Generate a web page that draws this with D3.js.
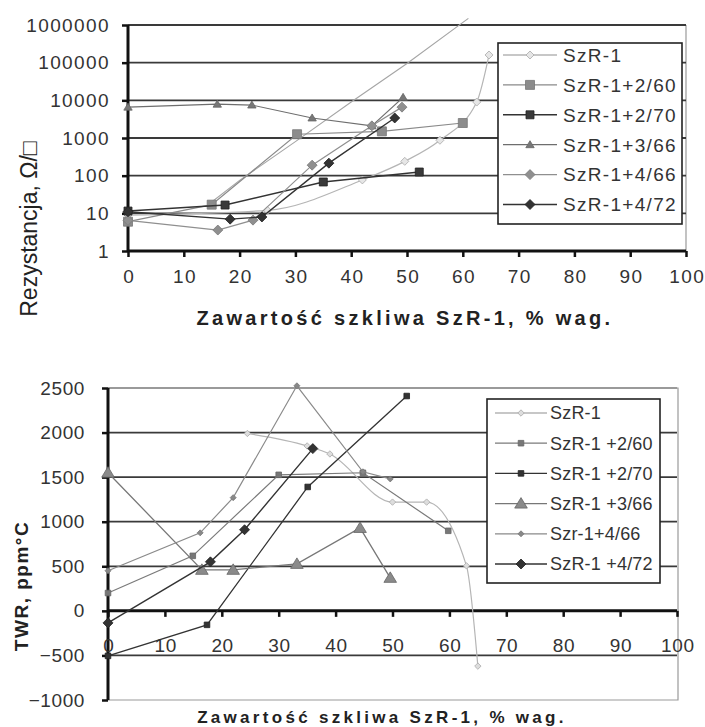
<!DOCTYPE html>
<html><head><meta charset="utf-8">
<script src="https://cdn.jsdelivr.net/npm/d3@7"></script>
<style>body{margin:0;background:#fff}svg{display:block}</style>
</head><body>
<svg id="c" width="705" height="727"></svg>
<script>
// ---------- DATA ----------
const xTicks = [0,10,20,30,40,50,60,70,80,90,100];
// Top chart: resistance (Ω/□), log scale
const resTicks = [1,10,100,1000,10000,100000,1000000];
const resNames = ["SzR-1","SzR-1+2/60","SzR-1+2/70","SzR-1+3/66","SzR-1+4/66","SzR-1+4/72"];
const resSzR1 = [[0,9],[25,12],[42,77],[49.6,240],[55.9,870],[62.5,9000],[64.7,160000]];
const res260  = [[0,6],[15,17],[30.3,1260],[45.5,1500],[60,2500]];
const res270  = [[0,11.5],[17.4,16.6],[35,68],[52.2,125]];
const res366  = [[0,6600],[16,7900],[22.2,7500],[33,3400],[43.7,2100],[49.3,12000]];
const res466  = [[0,6.5],[16.1,3.6],[22.4,6.6],[33,190],[43.7,2100],[49.1,6600]];
const res472  = [[0,11],[18.3,7],[24,8],[36,215],[47.8,3400]];
const resTrend = [[15,20],[20,75],[30,800],[40,9000],[50,95000],[61,1500000]];
// Bottom chart: TWR (ppm/°C)
const twrTicks = [-1000,-500,0,500,1000,1500,2000,2500];
const twrNames = ["SzR-1","SzR-1 +2/60","SzR-1 +2/70","SzR-1 +3/66","Szr-1+4/66","SzR-1 +4/72"];
const twrSzR1 = [[24.5,1990],[35,1850],[39,1760],[50,1220],[56,1220],[63,505],[65,-620]];
const twr260  = [[0,200],[14.9,617],[30,1526],[44.8,1549],[59.8,898]];
const twr270  = [[0,-505],[17.4,-157],[35.1,1390],[52.5,2410]];
const twr366  = [[0,1550],[16.5,460],[22,460],[33.2,527],[44.3,930],[49.6,370]];
const twr466  = [[0,450],[16.2,875],[22,1270],[33.2,2525],[44.8,1560],[49.6,1480]];
const twr472  = [[0,-135],[18,550],[24,910],[36,1820]];

const xTitle = "Zawartość szkliwa SzR-1, % wag.";

// ---------- STYLES ----------
const FONT = "'Liberation Sans', Arial, sans-serif";
const svg = d3.select("#c");

function markerPath(type, r){
  if(type==="square") return `M${-r},${-r}h${2*r}v${2*r}h${-2*r}Z`;
  if(type==="diamond") return `M0,${-r}L${r},0L0,${r}L${-r},0Z`;
  if(type==="triangle") return `M0,${-r}L${r*1.05},${r*0.75}L${-r*1.05},${r*0.75}Z`;
  return "";
}

function drawChart(cfg){
  const g = svg.append("g");
  const {x,y} = cfg;
  const [x0,x1] = x.range();
  const [yb,yt] = y.range();
  g.append("path").attr("d", cfg.frame).attr("fill","none").attr("stroke","#9a9a9a").attr("stroke-width",1.2);
  g.selectAll(".grid").data(cfg.grid).join("line")
    .attr("x1",x0).attr("x2",x1).attr("y1",d=>y(d)).attr("y2",d=>y(d))
    .attr("stroke",d=>cfg.lightGrid.includes(d)?"#8a8a8a":"#3a3a3a")
    .attr("stroke-width",d=>cfg.lightGrid.includes(d)?1.3:1.8);
  const ya = d3.axisLeft(y).tickValues(cfg.yTicks).tickSize(6).tickPadding(cfg.yPad).tickFormat(d3.format("d"));
  const yg = g.append("g").attr("transform",`translate(${x0},0)`).call(ya);
  const xa = d3.axisBottom(x).tickValues(xTicks).tickSize(6).tickPadding(cfg.xPad).tickFormat(d3.format("d"));
  const xg = g.append("g").attr("transform",`translate(0,${cfg.xAxisY})`).call(xa);
  [yg,xg].forEach(a=>{
    a.select(".domain").attr("stroke","#111").attr("stroke-width",3);
    a.selectAll(".tick line").attr("stroke","#111").attr("stroke-width",2.5);
    a.selectAll(".tick text").attr("fill","#333").style("font-family",FONT)
      .style("font-size",cfg.tickFont+"px").style("letter-spacing",cfg.tickLS+"px");
  });
  yg.select(".domain").attr("d",`M0,${yb}V${yt}`);
  xg.select(".domain").attr("d",`M${x0},0H${x1}`);
  xg.selectAll(".tick text").attr("dx", cfg.tickLS/2);
  cfg.series.forEach(s=>{
    const ln = d3.line().x(d=>x(d[0])).y(d=>y(d[1])).curve(s.smooth?d3.curveMonotoneX:d3.curveLinear);
    g.append("path").attr("d",ln(s.data)).attr("fill","none")
      .attr("stroke",s.line).attr("stroke-width",s.lw);
    if(s.marker){
      g.selectAll(null).data(s.data).join("path")
        .attr("transform",d=>`translate(${x(d[0])},${y(d[1])})`)
        .attr("d",markerPath(s.marker,s.r))
        .attr("fill",s.fill).attr("stroke",s.stroke).attr("stroke-width",s.sw||0.8);
    }
  });
  const L = cfg.legend;
  g.append("rect").attr("x",L.x).attr("y",L.y).attr("width",L.w).attr("height",L.h)
    .attr("fill","#fff").attr("stroke","#222").attr("stroke-width",1.6);
  cfg.series.filter(s=>s.name).forEach((s,i)=>{
    const ry = L.row0 + i*L.dy;
    g.append("line").attr("x1",L.l1).attr("x2",L.l2).attr("y1",ry).attr("y2",ry)
      .attr("stroke",s.line).attr("stroke-width",Math.max(s.lw,1.3));
    if(s.marker) g.append("path").attr("transform",`translate(${(L.l1+L.l2)/2},${ry})`)
      .attr("d",markerPath(s.marker,s.r)).attr("fill",s.fill).attr("stroke",s.stroke).attr("stroke-width",s.sw||0.8);
    g.append("text").attr("x",L.tx).attr("y",ry+L.font*0.36).text(s.name)
      .attr("fill","#333").style("font-family",FONT).style("font-size",L.font+"px").style("letter-spacing",L.ls+"px");
  });
  g.append("text").attr("x",cfg.xt.x).attr("y",cfg.xt.y).attr("text-anchor","middle").text(xTitle)
    .attr("fill","#222").style("font-family",FONT).style("font-weight","bold")
    .style("font-size",cfg.xt.f+"px").style("letter-spacing",cfg.xt.ls+"px");
  g.append("text").attr("transform",`translate(${cfg.yt.x},${cfg.yt.y}) rotate(-90)`).attr("text-anchor","middle")
    .text(cfg.yt.t).attr("fill","#222").style("font-family",FONT).style("font-weight",cfg.yt.w)
    .style("font-size",cfg.yt.f+"px").style("letter-spacing",cfg.yt.ls+"px");
}

// ---------- TOP CHART ----------
const xT = d3.scaleLinear().domain([0,100]).range([128,686]);
const yT = d3.scaleLog().domain([1,1000000]).range([251,25]);
drawChart({
  x:xT, y:yT, yTicks:resTicks, grid:resTicks.slice(1), lightGrid:[],
  frame:`M686,25V251`, xAxisY:251, yPad:12, xPad:13, tickFont:19, tickLS:1.4,
  series:[
    {name:null, data:resTrend, line:"#a5a5a5", lw:1.1},
    {name:resNames[0], data:resSzR1, line:"#b5b5b5", lw:1.2, smooth:true, marker:"diamond", r:4, fill:"#e6e6e6", stroke:"#aaa"},
    {name:resNames[1], data:res260, line:"#8a8a8a", lw:1.2, marker:"square", r:4.5, fill:"#8c8c8c", stroke:"#777"},
    {name:resNames[2], data:res270, line:"#333", lw:1.4, marker:"square", r:4, fill:"#3a3a3a", stroke:"#222"},
    {name:resNames[3], data:res366, line:"#6e6e6e", lw:1.2, marker:"triangle", r:4, fill:"#777", stroke:"#666"},
    {name:resNames[4], data:res466, line:"#8f8f8f", lw:1.2, marker:"diamond", r:5, fill:"#8f8f8f", stroke:"#7a7a7a"},
    {name:resNames[5], data:res472, line:"#333", lw:1.4, marker:"diamond", r:5, fill:"#333", stroke:"#222"}
  ],
  legend:{x:498,y:43,w:184,h:181,row0:55,dy:29.9,l1:503,l2:557,tx:563,font:19,ls:1.3},
  xt:{x:405,y:325,f:20,ls:3.3},
  yt:{x:37,y:229,t:"Rezystancja, Ω/□",f:23,ls:0,w:"normal"}
});

// ---------- BOTTOM CHART ----------
const xB = d3.scaleLinear().domain([0,100]).range([108,677]);
const yB = d3.scaleLinear().domain([-1000,2500]).range([700,388]);
drawChart({
  x:xB, y:yB, yTicks:twrTicks, grid:[2500,2000,1500,1000,500,-500], lightGrid:[2500],
  frame:`M108,388H678V700H108`, xAxisY:yB(0), yPad:17, xPad:22, tickFont:19, tickLS:0.6,
  series:[
    {name:twrNames[0], data:twrSzR1, line:"#b5b5b5", lw:1.2, smooth:true, marker:"diamond", r:3.2, fill:"#ddd", stroke:"#aaa"},
    {name:twrNames[1], data:twr260, line:"#7a7a7a", lw:1.2, marker:"square", r:2.8, fill:"#777", stroke:"#666"},
    {name:twrNames[2], data:twr270, line:"#333", lw:1.3, marker:"square", r:2.8, fill:"#333", stroke:"#222"},
    {name:twrNames[3], data:twr366, line:"#777", lw:1.3, marker:"triangle", r:6, fill:"#8a8a8a", stroke:"#666"},
    {name:twrNames[4], data:twr466, line:"#8a8a8a", lw:1.2, marker:"diamond", r:3, fill:"#888", stroke:"#777"},
    {name:twrNames[5], data:twr472, line:"#333", lw:1.4, marker:"diamond", r:5, fill:"#333", stroke:"#222"}
  ],
  legend:{x:487,y:399,w:173,h:184,row0:413,dy:30.2,l1:495,l2:547,tx:550,font:18,ls:0.2},
  xt:{x:382,y:723,f:17,ls:3.3},
  yt:{x:28,y:586,t:"TWR, ppm°C",f:19,ls:1.5,w:"bold"}
});
</script>
</body></html>
